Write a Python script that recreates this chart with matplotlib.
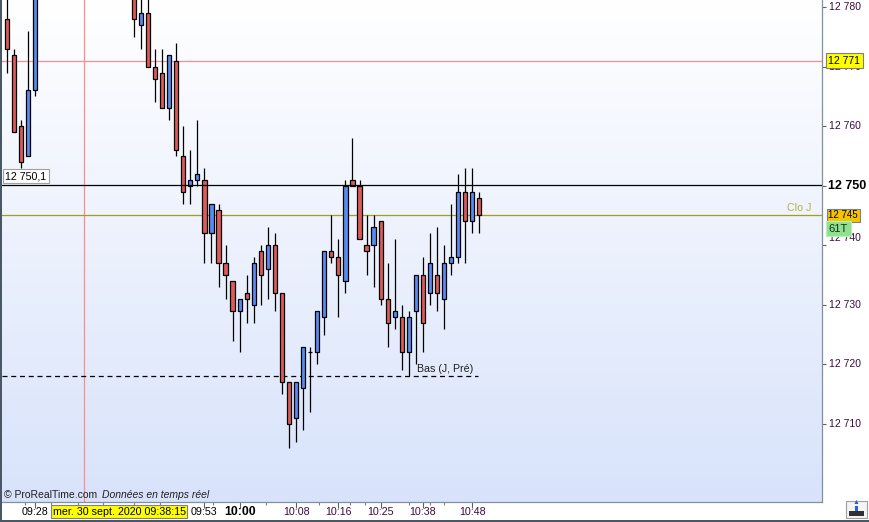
import numpy as np
import matplotlib
matplotlib.use('Agg')
import matplotlib.pyplot as plt
from matplotlib import transforms
from matplotlib.colors import LinearSegmentedColormap
from matplotlib.patches import Rectangle

plt.rcParams['font.family'] = ['Liberation Sans', 'DejaVu Sans']

# OHLC per bar (tick bars), None = bar entirely above the visible window
opens = [12778, 12772, 12760, 12755, 12766] + [None] * 13 + [
    12784, 12777, 12779, 12770, 12769, 12763, 12771, 12755, 12750, 12751,
    12751, 12742, 12746, 12737, 12734, 12729, 12732, 12730, 12739, 12736,
    12740, 12732, 12717, 12711, 12716, 12722, 12722, 12728, 12739, 12738,
    12734, 12751, 12750, 12740, 12740, 12744, 12731, 12728, 12728, 12722,
    12729, 12735, 12732, 12735, 12731, 12737, 12738, 12749, 12744, 12748]
highs = [12783, 12773, 12761, 12776, 12786] + [None] * 13 + [
    12785, 12783, 12783, 12773, 12773, 12772, 12774, 12760, 12756, 12761,
    12753, 12747, 12747, 12740, 12734, 12731, 12735, 12738, 12740, 12743,
    12742, 12732, 12717, 12717, 12723, 12723, 12729, 12739, 12745, 12741,
    12751, 12758, 12751, 12745, 12745, 12744, 12737, 12741, 12730, 12729,
    12735, 12738, 12742, 12743, 12740, 12747, 12752, 12753, 12753, 12749]
lows = [12769, 12759, 12753, 12755, 12765] + [None] * 13 + [
    12775, 12773, 12770, 12764, 12763, 12761, 12755, 12747, 12747, 12750,
    12737, 12737, 12733, 12731, 12724, 12722, 12727, 12727, 12730, 12731,
    12729, 12715, 12706, 12707, 12709, 12712, 12720, 12725, 12737, 12728,
    12732, 12750, 12741, 12735, 12733, 12730, 12723, 12726, 12719, 12718,
    12720, 12722, 12730, 12729, 12726, 12735, 12737, 12737, 12742, 12742]
closes = [12773, 12759, 12754, 12766, 12785] + [None] * 13 + [
    12778, 12779, 12770, 12768, 12763, 12772, 12756, 12749, 12751, 12752,
    12742, 12747, 12737, 12735, 12729, 12731, 12731, 12737, 12735, 12740,
    12732, 12717, 12710, 12717, 12723, 12722, 12729, 12739, 12738, 12735,
    12750, 12750, 12741, 12739, 12743, 12731, 12727, 12729, 12722, 12728,
    12735, 12727, 12737, 12732, 12737, 12738, 12749, 12744, 12749, 12745]

price_ticks = [12780, 12770, 12760, 12750, 12740, 12730, 12720, 12710]
crosshair_price = 12750.1
close_prev_day = 12745
high_level = 12771
low_prev_day = 12718
last_price = 12745
marker_bar = 10.9

time_tick_idx = [4, 28, 33, 41, 47, 53, 59, 66]
time_tick_labels = ['09:28', '09:53', '10:00', '10:08', '10:16', '10:25', '10:38', '10:48']
minor_tick_idx = [2.5, 6.3, 10, 13.6, 18, 21.7, 29.2, 36.8, 44.2, 48.7, 50.8, 57, 60, 62]
date_bar = 15.9
date_label = 'mer. 30 sept. 2020 09:38:15'

RED = '#e05a5a'
BLUE = '#5a8cf0'
PURPLE = '#3c0a3c'

W, H = 869, 522
fig = plt.figure(figsize=(W / 100, H / 100), dpi=100)
fig.patch.set_facecolor('white')
ax = fig.add_axes([2 / W, (H - 501.7) / H, 820 / W, 501.7 / H])

x0, x1 = -0.71, 115.6
y0, y1 = 12696.95, 12781.18

# background gradient
grad = np.linspace(0, 1, 256).reshape(-1, 1)
cmap = LinearSegmentedColormap.from_list('bg', ['#ffffff', '#d8e3fb'])
ax.imshow(grad, cmap=cmap, aspect='auto', extent=[x0, x1, y0, y1], origin='upper', zorder=0)

# candles
for i, (o, h, l, c) in enumerate(zip(opens, highs, lows, closes)):
    if o is None:
        continue
    ax.vlines(i, l, h, color='black', linewidth=0.9, zorder=3)
    if o == c:
        ax.hlines(c, i - 0.33, i + 0.33, color='black', linewidth=0.9, zorder=4)
        continue
    col = BLUE if c > o else RED
    ax.bar(i, abs(c - o), bottom=min(o, c), width=0.6, color=col,
           edgecolor='black', linewidth=0.9, zorder=4)

# horizontal / vertical reference lines
ax.axhline(high_level, color='#ff8c8c', linewidth=0.9, zorder=2)
ax.axvline(marker_bar, color='#ff8c8c', linewidth=0.9, zorder=2)
ax.axhline(crosshair_price, color='black', linewidth=0.9, zorder=5)
ax.axhline(close_prev_day, color='#a0a020', linewidth=0.9, zorder=2)
ax.hlines(low_prev_day, x0, len(opens) - 1.2, color='black', linewidth=0.9,
          linestyles=(0, (4, 3)), zorder=2)

ax.text(58.1, low_prev_day + 0.4, 'Bas (J, Pré)', fontsize=7.7, color='#202020',
        ha='left', va='bottom', zorder=6)
ax.text((811 - 2) / 820, 12746.3, 'Clo J', fontsize=7.7, color='#b4b43c',
        ha='right', va='center', transform=transforms.blended_transform_factory(ax.transAxes, ax.transData))
ax.text(0.004, 12751.6, '12 750,1', fontsize=7.7, color='black', ha='left', va='center',
        bbox=dict(boxstyle='square,pad=0.2', fc='white', ec='#a0a0a0', lw=0.8), zorder=7,
        transform=transforms.blended_transform_factory(ax.transAxes, ax.transData))

ax.text((4 - 2) / 820, 0.0134, '© ProRealTime.com', fontsize=7.5, color='#202020',
        ha='left', va='center', transform=ax.transAxes, zorder=6)
ax.text((102 - 2) / 820, 0.0134, 'Données en temps réel', fontsize=7.5, color='#202020',
        style='italic', ha='left', va='center', transform=ax.transAxes, zorder=6)

ax.set_xlim(x0, x1)
ax.set_ylim(y0, y1)

# spines
for s in ['top', 'left']:
    ax.spines[s].set_visible(False)
for s in ['right', 'bottom']:
    ax.spines[s].set_color('#8090a0')
    ax.spines[s].set_linewidth(0.9)

# right price axis
ax.yaxis.tick_right()
ax.set_yticks(price_ticks)
ax.set_yticklabels([])
ax.tick_params(axis='y', direction='out', length=3, width=0.8, color='#606060')
ty = transforms.blended_transform_factory(ax.transAxes, ax.transData)
for p in price_ticks:
    lab = f'{p:,}'.replace(',', ' ')
    if p == 12750:
        ax.text(1.0075, p, lab, fontsize=9, fontweight='bold', color='black',
                ha='left', va='center', transform=ty, clip_on=False)
    elif p == 12740:
        ax.text(1.0085, p + 1.2, lab, fontsize=7.5, color=PURPLE,
                ha='left', va='center', transform=ty, clip_on=False)
    else:
        ax.text(1.0085, p, lab, fontsize=7.5, color=PURPLE,
                ha='left', va='center', transform=ty, clip_on=False)

ax.text(1.0079, high_level, '12 771', fontsize=7.5, color='black', ha='left', va='center',
        bbox=dict(boxstyle='square,pad=0.22', fc='#ffff00', ec='#7f7f7f', lw=0.8),
        transform=ty, clip_on=False, zorder=10)
ax.text(1.0079, last_price, '12 745', fontsize=7, color='black', ha='left', va='center',
        bbox=dict(boxstyle='square,pad=0.2', fc='#f5c400', ec='#7f7f7f', lw=0.8),
        transform=ty, clip_on=False, zorder=10)
ax.text(1.0079, last_price - 2.2, '61T', fontsize=8, color='#103010', ha='left', va='center',
        bbox=dict(boxstyle='square,pad=0.25', fc='#90e090', ec='#b8f0b8', lw=0.8),
        transform=ty, clip_on=False, zorder=10)

# bottom time axis
ax.set_xticks(time_tick_idx)
ax.set_xticklabels([])
ax.set_xticks(minor_tick_idx, minor=True)
ax.tick_params(axis='x', which='major', direction='out', length=4, width=0.8, color='#606060')
ax.tick_params(axis='x', which='minor', direction='out', length=2.5, width=0.8, color='#808080')
tx = transforms.blended_transform_factory(ax.transData, ax.transAxes)
for idx, lab in zip(time_tick_idx, time_tick_labels):
    if lab == '10:00':
        ax.text(idx, -0.02, lab, fontsize=8.8, fontweight='bold', color='black',
                ha='center', va='center', transform=tx, clip_on=False)
    else:
        col = 'black' if lab in ('09:28', '09:53') else PURPLE
        ax.text(idx, -0.02, lab, fontsize=7.7, color=col,
                ha='center', va='center', transform=tx, clip_on=False)
ax.text(date_bar, -0.02, date_label, fontsize=7.7, color='black', ha='center', va='center',
        bbox=dict(boxstyle='square,pad=0.15', fc='#ffff00', ec='#7f7f7f', lw=0.8),
        transform=tx, clip_on=False, zorder=10)

# window frame
fig.patches.append(Rectangle((0, 0), 2 / W, 1, transform=fig.transFigure,
                             fc='#4a5866', ec='none', zorder=20))
fig.patches.append(Rectangle((0, 0), 1, 2.5 / H, transform=fig.transFigure,
                             fc='#4a5866', ec='none', zorder=20))
# small toolbar icon bottom-right
fig.patches.append(Rectangle((846 / W, 4 / H), 21 / W, 17 / H, transform=fig.transFigure,
                             fc='#f4f4f4', ec='#a0a0a0', lw=0.8, zorder=20))
fig.patches.append(Rectangle((849 / W, 6 / H), 15 / W, 5 / H, transform=fig.transFigure,
                             fc='#303030', ec='none', zorder=21))
fig.patches.append(Rectangle((855 / W, 11 / H), 3 / W, 5 / H, transform=fig.transFigure,
                             fc='#2060e0', ec='none', zorder=21))
fig.text(856.5 / W, 19 / H, '▲', fontsize=5, color='#2060e0', ha='center', va='center', zorder=22)

fig.savefig('out.png', dpi=100)
